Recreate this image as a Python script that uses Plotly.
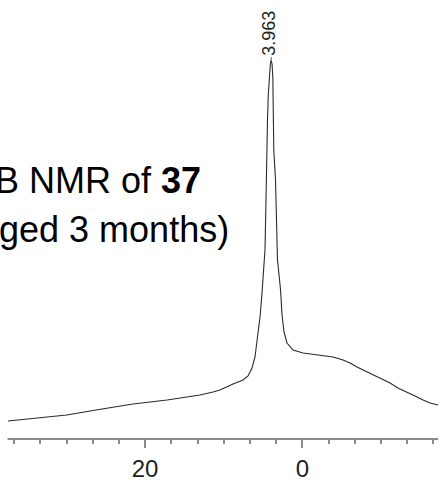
import plotly.graph_objects as go

# chemical shift (ppm) and intensity (arbitrary units)
ppm = [37.44, 34.64, 29.97, 26.25, 21.54, 17.21, 14.67, 13.02, 11.36, 10.47,
       8.82, 7.54, 6.91, 6.40, 6.02, 5.64, 5.38, 5.13, 4.94, 4.75, 4.62, 4.53,
       4.43, 4.33, 4.20, 4.07, 3.963, 3.85, 3.75, 3.69, 3.63, 3.41, 3.31, 3.16,
       2.96, 2.77, 2.58, 2.33, 1.95, 1.18, -0.09, -1.87, -3.91, -5.18, -6.07,
       -6.96, -7.96, -8.99, -10.0, -11.16, -12.17, -13.32, -14.33, -15.36,
       -16.25, -17.26]
intensity = [17, 19, 23, 28, 34, 38, 41, 43, 46, 48,
             54, 58, 62, 70, 81, 105, 121, 145, 168, 188, 238, 288,
             318, 343, 363, 374, 378, 374, 360, 328, 288, 258, 208, 178,
             163, 148, 123, 106, 95, 88, 85, 83, 81, 78, 75,
             71, 67, 63, 59, 55, 50, 46, 42, 38,
             35, 33]

peak_ppm = 3.963
peak_label = "3.963"
tick_step = 20
minor_step = 20 / 6
title_line1 = "¹¹B NMR of <b>37</b>"
title_line2 = "(aged 3 months)"

W, H = 438, 481
PLOT_H = 439

fig = go.Figure()
fig.add_trace(go.Scatter(x=ppm, y=intensity, mode="lines",
                         line=dict(color="#2a2a2a", width=1.1),
                         hoverinfo="skip", showlegend=False))

# axis line (starts slightly inside left edge)
fig.add_shape(type="line", xref="x", yref="paper", x0=37.5, x1=-17.3, y0=0, y1=0,
              line=dict(color="#8a8a8a", width=2))
# connector from peak label to peak top
fig.add_shape(type="line", xref="x", yref="y", x0=peak_ppm, x1=peak_ppm, y0=378, y1=381,
              line=dict(color="#555", width=1))

fig.add_annotation(x=peak_ppm, xref="x", y=1 - 33.5 / PLOT_H, yref="paper",
                   text=peak_label, textangle=-90, showarrow=False,
                   xanchor="center", yanchor="middle", xshift=-2,
                   font=dict(family="Liberation Sans, Arial", size=18, color="#222"))

fig.add_annotation(x=203 / W, xref="paper", y=1 - 180 / PLOT_H, yref="paper",
                   text=title_line1, showarrow=False, xanchor="right", yanchor="middle",
                   font=dict(family="Liberation Sans, Arial", size=36, color="black"))
fig.add_annotation(x=231 / W, xref="paper", y=1 - 229 / PLOT_H, yref="paper",
                   text=title_line2, showarrow=False, xanchor="right", yanchor="middle",
                   font=dict(family="Liberation Sans, Arial", size=36, color="black"))

fig.update_xaxes(range=[38.46, -17.26], showgrid=False, zeroline=False, showline=False,
                 automargin=False,
                 tick0=0, dtick=tick_step, ticks="outside", ticklen=8, tickwidth=2,
                 tickcolor="#8a8a8a", ticklabelstandoff=0,
                 minor=dict(tick0=0, dtick=minor_step, ticks="outside", ticklen=4,
                            tickwidth=2, tickcolor="#8a8a8a", showgrid=False),
                 tickfont=dict(family="Liberation Sans, Arial", size=24, color="#222"))
fig.update_yaxes(range=[-1, 438], visible=False, showgrid=False, zeroline=False,
                 automargin=False)

fig.update_layout(width=W, height=H, margin=dict(l=0, r=0, t=0, b=H - PLOT_H),
                  paper_bgcolor="white", plot_bgcolor="white", showlegend=False)

fig.write_html("out.html", config={"displayModeBar": False},
               post_script="document.body.style.margin='0';document.body.style.overflow='hidden';")
